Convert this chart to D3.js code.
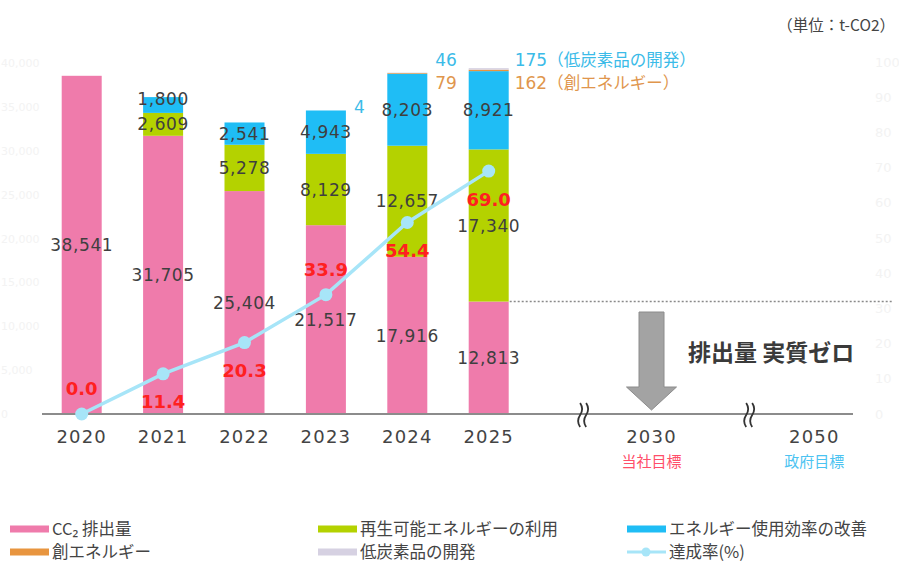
<!DOCTYPE html>
<html><head><meta charset="utf-8">
<script src="https://cdn.jsdelivr.net/npm/d3@7"></script>
<style>
html,body{margin:0;padding:0;background:#fff;}
svg{display:block;}
text{font-family:"Noto Sans CJK JP","Noto Sans",sans-serif;}
.num{font-family:"DejaVu Sans",sans-serif;}
</style></head>
<body><svg id="chart" width="899" height="562"></svg>
<script>
// ---- data ----
const years = ["2020","2021","2022","2023","2024","2025"];
const co2Emission   = [38541, 31705, 25404, 21517, 17916, 12813];
const renewable     = [0, 2609, 5278, 8129, 12657, 17340];
const efficiency    = [0, 1800, 2541, 4943, 8203, 8921];
const createEnergy  = [0, 0, 0, 0, 79, 162];
const lowCarbon     = [0, 0, 0, 4, 46, 175];
const achieveRate   = [0.0, 11.4, 20.3, 33.9, 54.4, 69.0];
const futureYears   = ["2030","2050"];
const futureNotes   = ["当社目標","政府目標"];
const leftTicks     = [0,5000,10000,15000,20000,25000,30000,35000,40000];
const rightTicks    = [0,10,20,30,40,50,60,70,80,90,100];
const seriesNames   = ["CC₂ 排出量","再生可能エネルギーの利用","エネルギー使用効率の改善","創エネルギー","低炭素品の開発","達成率(%)"];

const colors = {co2:"#ef7bab", renew:"#b4d200", eff:"#1fbdf5", create:"#e8953f", low:"#d6d1e2", rate:"#a7e5f8"};

const svg = d3.select("#chart");
const slots = ["2020","2021","2022","2023","2024","2025","br1","2030","br2","2050"];
const x = d3.scalePoint().domain(slots).range([41, 855]).padding(0.5);
const y = d3.scaleLinear().domain([0,40000]).range([414, 63]);
const yR = d3.scaleLinear().domain([0,100]).range([414, 62]);
const barW = 40;

// faint axis labels
const gl = svg.append("g").attr("transform","translate(1,0)")
  .call(d3.axisRight(y).tickValues(leftTicks).tickSize(0).tickPadding(0).tickFormat(d3.format(",")));
gl.select(".domain").remove();
gl.selectAll("text").attr("fill","#f3f3f3").attr("font-size",11).attr("class","num");
const gr = svg.append("g").attr("transform","translate(872,0)")
  .call(d3.axisRight(yR).tickValues(rightTicks).tickSize(0));
gr.select(".domain").remove();
gr.selectAll("text").attr("fill","#f3f3f3").attr("font-size",13).attr("class","num");

// stack
const table = years.map((yr,i)=>({year:yr, co2:co2Emission[i], renew:renewable[i], eff:efficiency[i], create:createEnergy[i], low:lowCarbon[i]}));
const keys = ["co2","renew","eff","create","low"];
const stacked = d3.stack().keys(keys)(table);

svg.append("g").selectAll("g").data(stacked).join("g")
  .attr("fill", d=>colors[d.key])
  .selectAll("rect").data(d=>d).join("rect")
  .attr("x", d=>x(d.data.year)-barW/2)
  .attr("width", barW)
  .attr("y", d=>y(d[1]))
  .attr("height", d=>Math.max(0, y(d[0])-y(d[1])));

// dotted line at 2025 emission level
svg.append("line")
  .attr("x1", x("2025")+barW/2+1).attr("x2", 893)
  .attr("y1", y(co2Emission[5])).attr("y2", y(co2Emission[5]))
  .attr("stroke","#8a8a8a").attr("stroke-width",1.5).attr("stroke-dasharray","2,2");

// baseline axis
svg.append("line").attr("x1",42).attr("x2",853).attr("y1",414).attr("y2",414)
  .attr("stroke","#8c8c8c").attr("stroke-width",2);

// value labels inside segments
const inner = ["co2","renew","eff"];
stacked.filter(s=>inner.includes(s.key)).forEach(s=>{
  svg.append("g").selectAll("text").data(s.filter(d=>d[1]-d[0]>0)).join("text")
    .attr("class","num")
    .attr("x", d=>x(d.data.year))
    .attr("y", d=>{ let m=(y(d[0])+y(d[1]))/2; if(d.data.year==="2021"&&s.key==="eff") m-=6; return m; })
    .attr("dy","0.36em")
    .attr("text-anchor","middle")
    .attr("font-size",17).attr("letter-spacing",0.6)
    .attr("fill","#3f3f3f")
    .text(d=>d3.format(",")(d[1]-d[0]));
});

// small segment labels beside bars
const total = i => co2Emission[i]+renewable[i]+efficiency[i]+createEnergy[i]+lowCarbon[i];
years.forEach((yr,i)=>{
  const xr = x(yr)+barW/2+8;
  if(lowCarbon[i]>0 && createEnergy[i]===0){
    svg.append("text").attr("class","num").attr("x",xr).attr("y",y(total(i))-4).attr("dy","0.36em")
      .attr("font-size",17).attr("fill","#3bbbe8").text(lowCarbon[i]);
  } else if(lowCarbon[i]>0){
    const last = i===years.length-1;
    svg.append("text").attr("x",xr-(last?2:0)).attr("y",60).attr("dy","0.36em")
      .attr("font-size",16.5).attr("fill","#3bbbe8")
      .html(`<tspan class="num" font-size="17">${lowCarbon[i]}</tspan>`+(last?`（${seriesNames[4]}）`:""));
    svg.append("text").attr("x",xr-(last?2:0)).attr("y",83).attr("dy","0.36em")
      .attr("font-size",16.5).attr("fill","#e0964d")
      .html(`<tspan class="num" font-size="17">${createEnergy[i]}</tspan>`+(last?`（${seriesNames[3]}）`:""));
  }
});

// achievement rate line
const line = d3.line().x((d,i)=>x(years[i])).y(d=>yR(d));
svg.append("path").datum(achieveRate).attr("d",line)
  .attr("fill","none").attr("stroke",colors.rate).attr("stroke-width",3.5);
svg.append("g").selectAll("circle").data(achieveRate).join("circle")
  .attr("cx",(d,i)=>x(years[i])).attr("cy",d=>yR(d)).attr("r",6.5).attr("fill",colors.rate);
const below = [false,true,true,false,true,true];
svg.append("g").selectAll("text").data(achieveRate).join("text")
  .attr("class","num")
  .attr("x",(d,i)=>x(years[i]))
  .attr("y",(d,i)=>yR(d)+(below[i]?28:-25))
  .attr("dy","0.36em").attr("text-anchor","middle")
  .attr("font-size",18).attr("font-weight","bold").attr("fill","#ff2020")
  .text(d=>d.toFixed(1));

// x axis labels
svg.append("g").selectAll("text").data(years.concat(futureYears)).join("text")
  .attr("class","num")
  .attr("x",d=>x(d)).attr("y",437).attr("dy","0.36em").attr("text-anchor","middle")
  .attr("font-size",18).attr("letter-spacing",1.2).attr("fill","#444").text(d=>d);
svg.append("g").selectAll("text").data(futureNotes).join("text")
  .attr("x",(d,i)=>x(futureYears[i])).attr("y",462).attr("dy","0.36em").attr("text-anchor","middle")
  .attr("font-size",15).attr("fill",(d,i)=>i===0?"#ff4f6a":"#4cc3f1").text(d=>d);

// break marks
[["br1",0.16],["br2",0.2]].forEach(([k,f])=>{
  const bx = x(k)+x.step()*f;
  [-3,3].forEach(o=>{
    svg.append("path")
      .attr("d",`M${bx+o},403 q4,6 0,12 q-4,6 0,12`)
      .attr("fill","none").attr("stroke","#333").attr("stroke-width",1.8);
  });
});

// arrow to 2030
const ax = x("2030");
svg.append("path")
  .attr("d",`M${ax-12.5},312 L${ax+12.5},312 L${ax+12.5},387 L${ax+25},387 L${ax},410 L${ax-25},387 L${ax-12.5},387 Z`)
  .attr("fill","#a3a3a3").attr("stroke","#8c8c8c").attr("stroke-width",1);
svg.append("text").attr("x",688).attr("y",353).attr("dy","0.36em")
  .attr("font-size",23).attr("font-weight","bold").attr("fill","#3a3a3a").text("排出量 実質ゼロ");

// unit
svg.append("text").attr("x",895).attr("y",25).attr("dy","0.36em").attr("text-anchor","end")
  .attr("font-size",15.5).attr("fill","#444").text("（単位：t-CO2）");

// legend
const legend = [
  {name:seriesNames[0], c:colors.co2, x:10, y:529},
  {name:seriesNames[1], c:colors.renew, x:318, y:529},
  {name:seriesNames[2], c:colors.eff, x:627, y:529},
  {name:seriesNames[3], c:colors.create, x:10, y:552},
  {name:seriesNames[4], c:colors.low, x:318, y:552},
  {name:seriesNames[5], c:colors.rate, x:627, y:552, line:true}
];
const lg = svg.append("g").selectAll("g").data(legend).join("g")
  .attr("transform",d=>`translate(${d.x},${d.y})`);
lg.filter(d=>!d.line).append("rect").attr("x",0).attr("y",-3.5).attr("width",39).attr("height",7).attr("fill",d=>d.c);
lg.filter(d=>d.line).append("line").attr("x1",0).attr("x2",39).attr("y1",0).attr("y2",0).attr("stroke",d=>d.c).attr("stroke-width",3);
lg.filter(d=>d.line).append("circle").attr("cx",19).attr("cy",0).attr("r",4.5).attr("fill",d=>d.c);
lg.append("text").attr("x",42).attr("y",0).attr("dy","0.34em").attr("font-size",16.5).attr("fill","#444").text(d=>d.name);
</script></body></html>
